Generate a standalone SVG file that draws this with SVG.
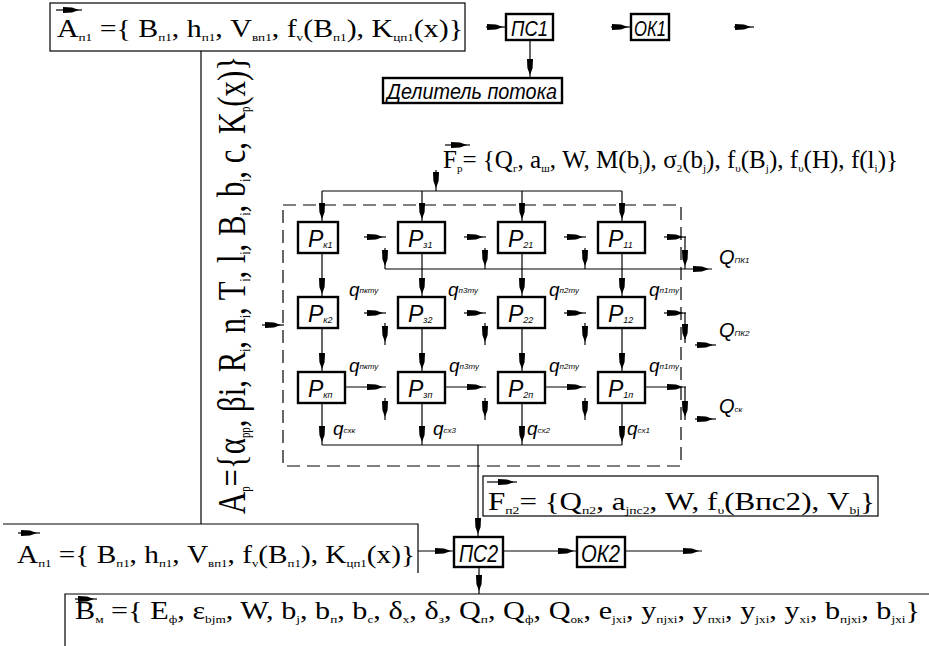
<svg xmlns="http://www.w3.org/2000/svg" width="929" height="646" viewBox="0 0 929 646">
<style>
.ln{stroke:#000;stroke-width:1.2;fill:none}
.ar{marker-end:url(#ah)}
.bx{fill:#fff;stroke:#000;stroke-width:2.4}
.fb{fill:none;stroke:#000;stroke-width:1.2}
.dash{fill:none;stroke:#000;stroke-width:1.2;stroke-dasharray:13 7}
.f{font-family:"Liberation Serif","Times New Roman",serif;font-size:25px;fill:#000}
.s{font-size:11px}
.g{font-family:"Liberation Sans",Arial,sans-serif;font-style:italic;fill:#000}
.P{font-size:23px}
.ps{font-size:9px}
.q{font-size:19px}
.qs{font-size:8px}
.Q{font-size:20px}
</style>
<defs>
<marker id="ah" markerUnits="userSpaceOnUse" markerWidth="22" markerHeight="8" viewBox="-21 -4 22 8" refX="0" refY="0" orient="auto">
<path d="M-19,-3 L-10,-2.6 L-3,0 L-10,2.6 L-19,3 z" fill="#000"/>
</marker>
</defs>
<rect width="929" height="646" fill="#fff"/>

<g id="connectors">
<line class="ln" x1="201" y1="51" x2="201" y2="524"/>
<line class="ln ar" x1="486" y1="27" x2="506" y2="27"/>
<line class="ln ar" x1="611" y1="27" x2="631" y2="27"/>
<line class="ln ar" x1="734" y1="27" x2="754" y2="27"/>
<line class="ln ar" x1="530" y1="40" x2="530" y2="78"/>
<line class="ln ar" x1="436" y1="170" x2="436" y2="191"/>
<line class="ln" x1="322" y1="191" x2="622" y2="191"/>
<line class="ln ar" x1="322" y1="191" x2="322" y2="222"/>
<line class="ln ar" x1="422" y1="191" x2="422" y2="222"/>
<line class="ln ar" x1="522" y1="191" x2="522" y2="222"/>
<line class="ln ar" x1="622" y1="191" x2="622" y2="222"/>
<line class="ln ar" x1="322" y1="253" x2="322" y2="297"/>
<line class="ln ar" x1="422" y1="253" x2="422" y2="297"/>
<line class="ln ar" x1="522" y1="253" x2="522" y2="297"/>
<line class="ln ar" x1="622" y1="253" x2="622" y2="297"/>
<line class="ln ar" x1="322" y1="328" x2="322" y2="372"/>
<line class="ln ar" x1="422" y1="328" x2="422" y2="372"/>
<line class="ln ar" x1="522" y1="328" x2="522" y2="372"/>
<line class="ln ar" x1="622" y1="328" x2="622" y2="372"/>
<line class="ln ar" x1="322" y1="403" x2="322" y2="445"/>
<line class="ln ar" x1="422" y1="403" x2="422" y2="445"/>
<line class="ln ar" x1="522" y1="403" x2="522" y2="445"/>
<line class="ln ar" x1="622" y1="403" x2="622" y2="445"/>
<line class="ln" x1="322" y1="445" x2="622" y2="445"/>
<line class="ln ar" x1="478" y1="445" x2="478" y2="537"/>
<line class="ln ar" x1="364" y1="237" x2="386" y2="237"/>
<line class="ln ar" x1="464" y1="237" x2="486" y2="237"/>
<line class="ln ar" x1="564" y1="237" x2="586" y2="237"/>
<line class="ln ar" x1="664" y1="237" x2="686" y2="237"/>
<line class="ln ar" x1="685" y1="237" x2="685" y2="269"/>
<line class="ln ar" x1="385" y1="248" x2="385" y2="269"/>
<line class="ln ar" x1="485" y1="248" x2="485" y2="269"/>
<line class="ln ar" x1="585" y1="248" x2="585" y2="269"/>
<line class="ln ar" x1="385" y1="269" x2="712" y2="269"/>
<line class="ln ar" x1="364" y1="313" x2="386" y2="313"/>
<line class="ln ar" x1="464" y1="313" x2="486" y2="313"/>
<line class="ln ar" x1="564" y1="313" x2="586" y2="313"/>
<line class="ln ar" x1="664" y1="313" x2="686" y2="313"/>
<line class="ln ar" x1="685" y1="313" x2="685" y2="343"/>
<line class="ln ar" x1="385" y1="323" x2="385" y2="345"/>
<line class="ln ar" x1="485" y1="323" x2="485" y2="345"/>
<line class="ln ar" x1="585" y1="323" x2="585" y2="345"/>
<line class="ln ar" x1="695" y1="345" x2="716" y2="345"/>
<line class="ln ar" x1="262" y1="325" x2="284" y2="325"/>
<line class="ln ar" x1="345" y1="387" x2="386" y2="387"/>
<line class="ln ar" x1="445" y1="387" x2="486" y2="387"/>
<line class="ln ar" x1="545" y1="387" x2="586" y2="387"/>
<line class="ln ar" x1="645" y1="387" x2="686" y2="387"/>
<line class="ln ar" x1="685" y1="387" x2="685" y2="420"/>
<line class="ln ar" x1="385" y1="398" x2="385" y2="420"/>
<line class="ln ar" x1="485" y1="398" x2="485" y2="420"/>
<line class="ln ar" x1="585" y1="398" x2="585" y2="420"/>
<line class="ln ar" x1="695" y1="419" x2="716" y2="419"/>
<line class="ln ar" x1="418" y1="551" x2="454" y2="551"/>
<line class="ln ar" x1="503" y1="551" x2="577" y2="551"/>
<line class="ln ar" x1="625" y1="551" x2="702" y2="551"/>
<line class="ln ar" x1="479" y1="567" x2="479" y2="594"/>
</g>

<g id="A_top">
<rect class="fb" x="50" y="3" width="415" height="48"/>
<line class="ln ar" x1="56" y1="10" x2="82" y2="10"/>
<text class="f" x="57" y="37" textLength="406" lengthAdjust="spacingAndGlyphs">A<tspan class="s" dy="4">п1</tspan><tspan dy="-4"> ={ B</tspan><tspan class="s" dy="4">п1</tspan><tspan dy="-4">, h</tspan><tspan class="s" dy="4">п1</tspan><tspan dy="-4">, V</tspan><tspan class="s" dy="4">вп1</tspan><tspan dy="-4">, f</tspan><tspan class="s" dy="4">v</tspan><tspan dy="-4">(B</tspan><tspan class="s" dy="4">п1</tspan><tspan dy="-4">), K</tspan><tspan class="s" dy="4">цп1</tspan><tspan dy="-4">(x)}</tspan></text>
</g>

<g id="PS1">
<rect class="bx" x="506" y="14" width="47" height="26"/>
<text class="g" x="511" y="36" font-size="22" textLength="37" lengthAdjust="spacingAndGlyphs">ПС1</text>
</g>
<g id="OK1">
<rect class="bx" x="631" y="14" width="38" height="26"/>
<text class="g" x="634" y="36" font-size="22" textLength="32" lengthAdjust="spacingAndGlyphs">ОК1</text>
</g>
<g id="delitel">
<rect class="bx" x="383" y="78" width="179" height="25"/>
<text class="g" x="387" y="99" font-size="22" textLength="170" lengthAdjust="spacingAndGlyphs">Делитель потока</text>
</g>

<g id="A_p">
<text class="f" transform="translate(245,514) rotate(-90)" x="0" y="0" textLength="458" lengthAdjust="spacingAndGlyphs" style="font-size:40px">A<tspan style="font-size:14px" dy="5">р</tspan><tspan dy="-5">={α</tspan><tspan style="font-size:14px" dy="5">рр</tspan><tspan dy="-5">, βi, R</tspan><tspan style="font-size:14px" dy="5">i</tspan><tspan dy="-5">, n</tspan><tspan style="font-size:14px" dy="5">i</tspan><tspan dy="-5">, T</tspan><tspan style="font-size:14px" dy="5">i</tspan><tspan dy="-5">, l</tspan><tspan style="font-size:14px" dy="5">i</tspan><tspan dy="-5">, B</tspan><tspan style="font-size:14px" dy="5">i</tspan><tspan dy="-5">, b</tspan><tspan style="font-size:14px" dy="5">i</tspan><tspan dy="-5">, c, K</tspan><tspan style="font-size:14px" dy="5">р</tspan><tspan dy="-5">(x)}</tspan></text>
</g>

<g id="F_p">
<line class="ln ar" x1="445" y1="145" x2="470" y2="145"/>
<text class="f" x="443" y="168" textLength="455" lengthAdjust="spacingAndGlyphs">F<tspan class="s" dy="4">р</tspan><tspan dy="-4">= {Q</tspan><tspan class="s" dy="4">г</tspan><tspan dy="-4">, a</tspan><tspan class="s" dy="4">ш</tspan><tspan dy="-4">, W, M(b</tspan><tspan class="s" dy="4">j</tspan><tspan dy="-4">), σ</tspan><tspan class="s" dy="4">2</tspan><tspan dy="-4">(b</tspan><tspan class="s" dy="4">j</tspan><tspan dy="-4">), f</tspan><tspan class="s" dy="4">υ</tspan><tspan dy="-4">(B</tspan><tspan class="s" dy="4">j</tspan><tspan dy="-4">), f</tspan><tspan class="s" dy="4">υ</tspan><tspan dy="-4">(H), f(l</tspan><tspan class="s" dy="4">i</tspan><tspan dy="-4">)}</tspan></text>
</g>

<g id="grid_frame">
<rect class="dash" x="283" y="205" width="398" height="261"/>
</g>

<g id="P_k1"><rect class="bx" x="298" y="222" width="40" height="31"/><text class="g P" x="308" y="247">P<tspan class="ps" dy="1">к1</tspan></text></g>
<g id="P_z1"><rect class="bx" x="398" y="222" width="47" height="31"/><text class="g P" x="408" y="247">P<tspan class="ps" dy="1">з1</tspan></text></g>
<g id="P_21"><rect class="bx" x="498" y="222" width="47" height="31"/><text class="g P" x="508" y="247">P<tspan class="ps" dy="1">21</tspan></text></g>
<g id="P_11"><rect class="bx" x="598" y="222" width="47" height="31"/><text class="g P" x="608" y="247">P<tspan class="ps" dy="1">11</tspan></text></g>

<g id="P_k2"><rect class="bx" x="298" y="297" width="40" height="31"/><text class="g P" x="308" y="322">P<tspan class="ps" dy="1">к2</tspan></text></g>
<g id="P_z2"><rect class="bx" x="398" y="297" width="47" height="31"/><text class="g P" x="408" y="322">P<tspan class="ps" dy="1">з2</tspan></text></g>
<g id="P_22"><rect class="bx" x="498" y="297" width="47" height="31"/><text class="g P" x="508" y="322">P<tspan class="ps" dy="1">22</tspan></text></g>
<g id="P_12"><rect class="bx" x="598" y="297" width="47" height="31"/><text class="g P" x="608" y="322">P<tspan class="ps" dy="1">12</tspan></text></g>

<g id="P_kn"><rect class="bx" x="298" y="372" width="47" height="31"/><text class="g P" x="308" y="397">P<tspan class="ps" dy="1">кп</tspan></text></g>
<g id="P_zn"><rect class="bx" x="398" y="372" width="47" height="31"/><text class="g P" x="408" y="397">P<tspan class="ps" dy="1">зп</tspan></text></g>
<g id="P_2n"><rect class="bx" x="498" y="372" width="47" height="31"/><text class="g P" x="508" y="397">P<tspan class="ps" dy="1">2п</tspan></text></g>
<g id="P_1n"><rect class="bx" x="598" y="372" width="47" height="31"/><text class="g P" x="608" y="397">P<tspan class="ps" dy="1">1п</tspan></text></g>

<g id="q_labels">
<text class="g q" x="349" y="296">q<tspan class="qs" dy="-3">пкту</tspan></text>
<text class="g q" x="448" y="296">q<tspan class="qs" dy="-3">п3ту</tspan></text>
<text class="g q" x="549" y="296">q<tspan class="qs" dy="-3">п2ту</tspan></text>
<text class="g q" x="649" y="296">q<tspan class="qs" dy="-3">п1ту</tspan></text>
<text class="g q" x="349" y="372">q<tspan class="qs" dy="-3">пкту</tspan></text>
<text class="g q" x="449" y="372">q<tspan class="qs" dy="-3">п3ту</tspan></text>
<text class="g q" x="549" y="372">q<tspan class="qs" dy="-3">п2ту</tspan></text>
<text class="g q" x="649" y="372">q<tspan class="qs" dy="-3">п1ту</tspan></text>
<text class="g q" x="333" y="435">q<tspan class="qs" dy="-2">схк</tspan></text>
<text class="g q" x="433" y="435">q<tspan class="qs" dy="-2">сх3</tspan></text>
<text class="g q" x="527" y="435">q<tspan class="qs" dy="-2">сх2</tspan></text>
<text class="g q" x="627" y="435">q<tspan class="qs" dy="-2">сх1</tspan></text>
</g>

<g id="Q_labels">
<text class="g Q" x="719" y="264">Q<tspan class="qs" dy="-1">ПК1</tspan></text>
<text class="g Q" x="719" y="337">Q<tspan class="qs" dy="-1">ПК2</tspan></text>
<text class="g Q" x="719" y="413">Q<tspan class="qs" dy="-1">ск</tspan></text>
</g>

<g id="F_p2">
<rect class="fb" x="483" y="476" width="395" height="40"/>
<line class="ln ar" x1="487" y1="482" x2="517" y2="482"/>
<text class="f" x="488" y="510" textLength="387" lengthAdjust="spacingAndGlyphs">F<tspan class="s" dy="4">п2</tspan><tspan dy="-4">= {Q</tspan><tspan class="s" dy="4">п2</tspan><tspan dy="-4">, a</tspan><tspan class="s" dy="4">jпс2</tspan><tspan dy="-4">, W, f</tspan><tspan class="s" dy="4">υ</tspan><tspan dy="-4">(Bпс2), V</tspan><tspan class="s" dy="4">bj</tspan><tspan dy="-4">}</tspan></text>
</g>

<g id="A_bottom">
<path class="fb" d="M3,524 H418 V573"/>
<line class="ln ar" x1="18" y1="533" x2="40" y2="533"/>
<text class="f" x="17" y="563" textLength="398" lengthAdjust="spacingAndGlyphs">A<tspan class="s" dy="4">п1</tspan><tspan dy="-4"> ={ B</tspan><tspan class="s" dy="4">п1</tspan><tspan dy="-4">, h</tspan><tspan class="s" dy="4">п1</tspan><tspan dy="-4">, V</tspan><tspan class="s" dy="4">вп1</tspan><tspan dy="-4">, f</tspan><tspan class="s" dy="4">v</tspan><tspan dy="-4">(B</tspan><tspan class="s" dy="4">п1</tspan><tspan dy="-4">), K</tspan><tspan class="s" dy="4">цп1</tspan><tspan dy="-4">(x)}</tspan></text>
</g>

<g id="PS2">
<rect class="bx" x="454" y="537" width="49" height="30"/>
<text class="g" x="459" y="562" font-size="24" textLength="39" lengthAdjust="spacingAndGlyphs">ПС2</text>
</g>
<g id="OK2">
<rect class="bx" x="577" y="537" width="48" height="30"/>
<text class="g" x="581" y="562" font-size="24" textLength="39" lengthAdjust="spacingAndGlyphs">ОК2</text>
</g>

<g id="B_m">
<path class="fb" d="M65,646 V594 H929"/>
<line class="ln ar" x1="75" y1="599" x2="97" y2="599"/>
<text class="f" x="75" y="619" style="font-size:25px" textLength="845" lengthAdjust="spacingAndGlyphs">B<tspan class="s" dy="4">м</tspan><tspan dy="-4"> ={ E</tspan><tspan class="s" dy="4">ф</tspan><tspan dy="-4">, ε</tspan><tspan class="s" dy="4">bjm</tspan><tspan dy="-4">, W, b</tspan><tspan class="s" dy="4">j</tspan><tspan dy="-4">, b</tspan><tspan class="s" dy="4">п</tspan><tspan dy="-4">, b</tspan><tspan class="s" dy="4">с</tspan><tspan dy="-4">, δ</tspan><tspan class="s" dy="4">х</tspan><tspan dy="-4">, δ</tspan><tspan class="s" dy="4">з</tspan><tspan dy="-4">, Q</tspan><tspan class="s" dy="4">п</tspan><tspan dy="-4">, Q</tspan><tspan class="s" dy="4">ф</tspan><tspan dy="-4">, Q</tspan><tspan class="s" dy="4">ок</tspan><tspan dy="-4">, e</tspan><tspan class="s" dy="4">jxi</tspan><tspan dy="-4">, y</tspan><tspan class="s" dy="4">пjxi</tspan><tspan dy="-4">, y</tspan><tspan class="s" dy="4">пxi</tspan><tspan dy="-4">, y</tspan><tspan class="s" dy="4">jxi</tspan><tspan dy="-4">, y</tspan><tspan class="s" dy="4">xi</tspan><tspan dy="-4">, b</tspan><tspan class="s" dy="4">пjxi</tspan><tspan dy="-4">, b</tspan><tspan class="s" dy="4">jxi</tspan><tspan dy="-4">}</tspan></text>
</g>
</svg>
